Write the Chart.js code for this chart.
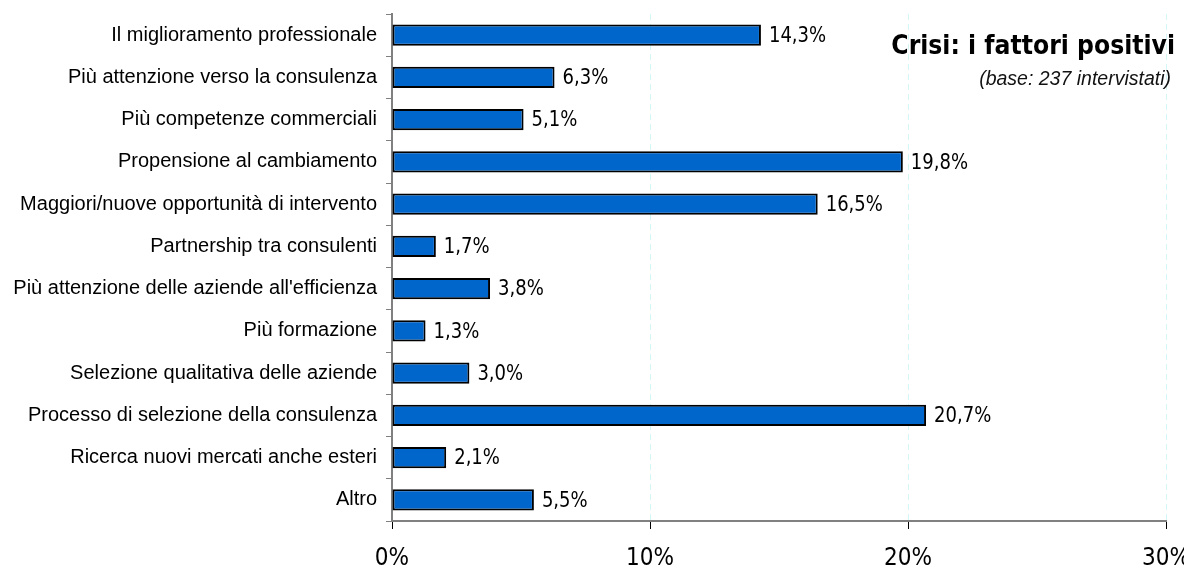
<!DOCTYPE html>
<html>
<head>
<meta charset="utf-8">
<script src="https://cdn.jsdelivr.net/npm/chart.js@4.4.1/dist/chart.umd.min.js"></script>
<style>
  html, body { margin: 0; padding: 0; background: #fff; }
  #wrap { width: 1184px; height: 578px; }
</style>
</head>
<body>
<div id="wrap"><canvas id="grafico"></canvas></div>
<script>
// Fattori positivi della crisi (percentuali)
const categorie = [
    "Il miglioramento professionale",
    "Più attenzione verso la consulenza",
    "Più competenze commerciali",
    "Propensione al cambiamento",
    "Maggiori/nuove opportunità di intervento",
    "Partnership tra consulenti",
    "Più attenzione delle aziende all'efficienza",
    "Più formazione",
    "Selezione qualitativa delle aziende",
    "Processo di selezione della consulenza",
    "Ricerca nuovi mercati anche esteri",
    "Altro"
];
const valori = [14.3, 6.3, 5.1, 19.8, 16.5, 1.7, 3.8, 1.3, 3.0, 20.7, 2.1, 5.5];
const tickAsse = [0, 10, 20, 30];
const titolo = "Crisi: i fattori positivi";
const sottotitolo = "(base: 237 intervistati)";

const fontStretto = "'DejaVu Sans Condensed', 'Liberation Sans Narrow', sans-serif";

function formatoPercento(v) {
    return v.toFixed(1).replace(".", ",") + "%";
}

// testo compresso in orizzontale
function testoStretto(ctx, testo, x, y, scalaX) {
    ctx.save();
    ctx.translate(x, y);
    ctx.scale(scalaX, 1);
    ctx.fillText(testo, 0, 0);
    ctx.restore();
}

// Etichette dei valori a destra delle barre
const etichetteValori = {
    id: "etichetteValori",
    afterDatasetsDraw(chart) {
        const ctx = chart.ctx;
        const meta = chart.getDatasetMeta(0);
        ctx.save();
        ctx.font = "22px " + fontStretto;
        ctx.fillStyle = "#000";
        ctx.textAlign = "left";
        ctx.textBaseline = "middle";
        meta.data.forEach((bar, i) => {
            testoStretto(ctx, formatoPercento(valori[i]), bar.x + 8, bar.y + 1, 0.91);
        });
        ctx.restore();
    }
};

// Titolo e sottotitolo in alto a destra
const titoloGrafico = {
    id: "titoloGrafico",
    afterDraw(chart) {
        const ctx = chart.ctx;
        ctx.save();
        ctx.textAlign = "right";
        ctx.textBaseline = "middle";
        ctx.fillStyle = "#000";
        ctx.font = "bold 27px " + fontStretto;
        testoStretto(ctx, titolo, 1175, 47, 0.97);
        ctx.font = "italic 19.5px 'Liberation Sans', Arial, sans-serif";
        ctx.fillStyle = "#111";
        testoStretto(ctx, sottotitolo, 1171, 80, 1);
        ctx.restore();
    }
};

new Chart(document.getElementById("grafico"), {
    type: "bar",
    data: {
        labels: categorie,
        datasets: [{
            data: valori,
            backgroundColor: "#0066CC",
            borderColor: "#000",
            borderWidth: 2,
            borderSkipped: false,
            barPercentage: 0.5,
            categoryPercentage: 1
        }]
    },
    options: {
        indexAxis: "y",
        responsive: true,
        maintainAspectRatio: false,
        animation: false,
        layout: { padding: { top: 14, right: 18, left: 0, bottom: 0 } },
        plugins: {
            legend: { display: false },
            tooltip: { enabled: false }
        },
        scales: {
            x: {
                min: 0,
                max: 30,
                afterBuildTicks(scale) {
                    scale.ticks = tickAsse.map(v => ({ value: v }));
                },
                afterFit(scale) {
                    scale.height = 57;
                    scale.paddingLeft = 0;
                    scale.paddingRight = 0;
                },
                ticks: {
                    callback: v => v + "%",
                    font: { family: fontStretto, size: 24 },
                    color: "#000",
                    padding: 15,
                    maxRotation: 0
                },
                grid: {
                    color: "#d4f6f6",
                    tickColor: "#000",
                    tickLength: 8,
                    lineWidth: 1
                },
                border: { color: "#808080", width: 2, dash: [6, 4], display: true }
            },
            y: {
                afterFit(scale) {
                    scale.width = 392;
                    scale.paddingTop = 0;
                    scale.paddingBottom = 0;
                },
                ticks: {
                    font: { family: "'Liberation Sans', Arial, sans-serif", size: 20 },
                    color: "#000",
                    padding: 9
                },
                grid: {
                    drawOnChartArea: false,
                    color: "#808080",
                    tickLength: 6,
                    offset: true
                },
                border: { color: "#808080", width: 2 }
            }
        }
    },
    plugins: [etichetteValori, titoloGrafico]
});
</script>
</body>
</html>
